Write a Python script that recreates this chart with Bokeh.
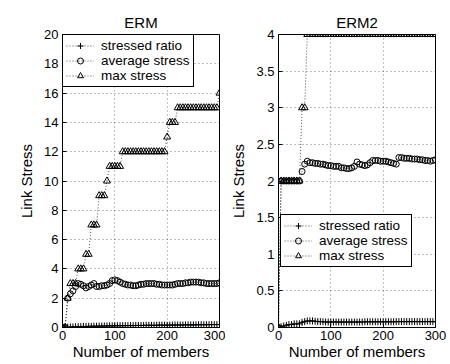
from bokeh.plotting import figure
from bokeh.layouts import row
from bokeh.models import (FixedTicker, NumeralTickFormatter, Legend, LegendItem,
                          Range1d)
from bokeh.embed import file_html
from bokeh.resources import INLINE

FONT = "Liberation Sans"

# ---------------- data ----------------
members = [0, 5, 10, 15, 20, 25, 30, 35, 40, 45, 50, 55, 60, 65, 70, 75, 80, 85, 90, 95,
           100, 105, 110, 115, 120, 125, 130, 135, 140, 145, 150, 155, 160, 165, 170, 175,
           180, 185, 190, 195, 200, 205, 210, 215, 220, 225, 230, 235, 240, 245, 250, 255,
           260, 265, 270, 275, 280, 285, 290, 295, 300]

erm_ratio = [0, 0, 0.02, 0.03, 0.04, 0.05, 0.05, 0.06, 0.07, 0.07, 0.08, 0.08, 0.09, 0.09,
             0.10, 0.10, 0.10, 0.11, 0.11, 0.11, 0.12, 0.12, 0.12, 0.12, 0.13, 0.13, 0.13,
             0.13, 0.14, 0.14, 0.14, 0.14, 0.15, 0.15, 0.15, 0.15, 0.15, 0.16, 0.16, 0.16,
             0.16, 0.16, 0.17, 0.17, 0.17, 0.17, 0.17, 0.18, 0.18, 0.18, 0.18, 0.18, 0.19,
             0.19, 0.19, 0.19, 0.19, 0.2, 0.2, 0.2, 0.2]
erm_avg = [0, 0, 2.0, 2.3, 2.5, 2.8, 3.0, 2.95, 2.85, 2.7, 2.8, 2.9, 3.0, 2.8, 2.8, 2.85,
           2.85, 2.9, 3.0, 3.2, 3.25, 3.2, 3.1, 3.0, 2.95, 2.9, 2.9, 2.85, 2.85, 2.9, 2.95,
           2.95, 3.0, 3.0, 3.0, 3.0, 2.95, 2.95, 2.9, 2.9, 2.9, 2.9, 2.9, 2.95, 3.0, 3.0,
           3.0, 3.05, 3.05, 3.1, 3.1, 3.1, 3.1, 3.05, 3.05, 3.0, 3.0, 3.0, 3.0, 3.0, 3.05]
erm_max = [0, 0, 2, 3, 3, 3, 4, 4, 4, 5, 5, 7, 7, 7, 9, 9, 9, 10, 11, 11, 11, 11, 11,
           12, 12, 12, 12, 12, 12, 12, 12, 12, 12, 12, 12, 12, 12, 12, 12, 12,
           13, 14, 14, 14,
           15, 15, 15, 15, 15, 15, 15, 15, 15, 15, 15, 15, 15, 15, 15, 15, 16]

erm2_ratio = [0, 0.01, 0.02, 0.03, 0.04, 0.04, 0.05, 0.05, 0.05, 0.07, 0.08, 0.09, 0.09,
              0.09, 0.085, 0.08, 0.08, 0.078, 0.075, 0.075, 0.075, 0.075, 0.075, 0.075,
              0.075, 0.075, 0.075, 0.075, 0.075, 0.075, 0.075, 0.075, 0.075, 0.078, 0.078,
              0.078, 0.078, 0.078, 0.078, 0.078, 0.078, 0.078, 0.078, 0.078, 0.078, 0.08,
              0.08, 0.08, 0.08, 0.08, 0.08, 0.08, 0.08, 0.08, 0.08, 0.08, 0.08, 0.08, 0.08,
              0.08, 0.08]
erm2_avg = [0, 2.0, 2.0, 2.0, 2.0, 2.0, 2.0, 2.0, 2.0, 2.13, 2.23,
            2.27, 2.25, 2.25, 2.24, 2.24, 2.23, 2.23, 2.22, 2.21, 2.21,
            2.20, 2.20, 2.20, 2.18, 2.18, 2.17, 2.17, 2.18, 2.20, 2.26,
            2.23, 2.22, 2.21, 2.22, 2.25, 2.28, 2.28, 2.28, 2.27, 2.27,
            2.27, 2.26, 2.25, 2.24, 2.23, 2.32, 2.32, 2.31, 2.31, 2.31,
            2.30, 2.30, 2.30, 2.29, 2.29, 2.28, 2.28, 2.27, 2.28, 2.29]
erm2_max = [0, 2, 2, 2, 2, 2, 2, 2, 2, 3, 3,
            4, 4, 4, 4, 4, 4, 4, 4, 4, 4, 4, 4, 4, 4, 4, 4, 4, 4, 4, 4,
            4, 4, 4, 4, 4, 4, 4, 4, 4, 4, 4, 4, 4, 4, 4, 4, 4, 4, 4, 4,
            4, 4, 4, 4, 4, 4, 4, 4, 4, 4]

x_ticks = [0, 100, 200, 300]
erm_yticks = [0, 2, 4, 6, 8, 10, 12, 14, 16, 18, 20]
erm2_yticks = [0, 0.5, 1, 1.5, 2, 2.5, 3, 3.5, 4]
labels = ["stressed ratio", "average stress", "max stress"]


def make(title, ymax, yticks, series, border_left, border_right, legend_loc):
    p = figure(frame_width=157, frame_height=293,
               x_range=Range1d(0, 300), y_range=Range1d(0, ymax),
               output_backend="svg", toolbar_location=None,
               min_border_left=border_left, min_border_right=border_right,
               min_border_top=34, min_border_bottom=37,
               background_fill_color="white", border_fill_color="white")
    p.title.text = title
    p.title.align = "center"
    p.title.text_font = FONT
    p.title.text_font_size = "15px"
    p.title.text_font_style = "normal"
    p.title.text_color = "black"
    p.title.standoff = 8

    p.outline_line_color = "black"
    p.outline_line_width = 1
    p.outline_line_alpha = 1

    for ax in (p.xaxis[0], p.yaxis[0]):
        ax.major_label_text_font = FONT
        ax.major_label_text_font_size = "13px"
        ax.major_label_text_color = "black"
        ax.axis_label_text_font = FONT
        ax.axis_label_text_font_size = "15px"
        ax.axis_label_text_font_style = "normal"
        ax.axis_label_text_color = "black"
        ax.major_tick_in = 4
        ax.major_tick_out = 0
        ax.minor_tick_line_color = None
        ax.axis_line_color = "black"
        ax.major_tick_line_color = "black"
        ax.major_label_standoff = 4
        ax.axis_label_standoff = 6
    p.xaxis[0].major_label_standoff = 3
    p.xaxis[0].axis_label_standoff = 0
    p.xaxis[0].ticker = FixedTicker(ticks=x_ticks)
    p.yaxis[0].ticker = FixedTicker(ticks=yticks)
    p.yaxis[0].formatter = NumeralTickFormatter(format="0.[0]")
    p.xaxis[0].axis_label = "Number of members"
    p.yaxis[0].axis_label = "Link Stress"

    for ax in (p.xgrid[0], p.ygrid[0]):
        ax.grid_line_color = "black"
        ax.grid_line_alpha = 0.5
        ax.grid_line_dash = "1 3"
        ax.grid_line_width = 1
    p.xgrid[0].ticker = FixedTicker(ticks=x_ticks)
    p.ygrid[0].ticker = FixedTicker(ticks=yticks)

    markers = ["cross", "circle", "triangle"]
    sizes = [7, 6, 7]
    items = []
    for lab, ys, mk, sz in zip(labels, series, markers, sizes):
        lr = p.line(members, ys, line_color="black", line_width=1, line_dash="1 2",
                    line_alpha=0.7)
        sr = p.scatter(members, ys, marker=mk, size=sz, line_color="black",
                       line_width=1, fill_color=None)
        items.append(LegendItem(label=lab, renderers=[lr, sr]))

    leg = Legend(items=items, location=legend_loc,
                 label_text_font=FONT, label_text_font_size="13.5px",
                 label_text_color="black",
                 border_line_color="black", border_line_width=1, border_line_alpha=1,
                 background_fill_color="white", background_fill_alpha=1,
                 padding=3, spacing=0, margin=0,
                 glyph_width=28, glyph_height=15, label_height=15,
                 label_standoff=7)
    p.add_layout(leg, "center")
    return p


p1 = make("ERM", 20, erm_yticks, [erm_ratio, erm_avg, erm_max], 62, 6, "top_left")
p2 = make("ERM2", 4, erm2_yticks, [erm2_ratio, erm2_avg, erm2_max], 53, 15, (2, 60))

layout = row(p1, p2)
open("out.html", "w").write(file_html(layout, INLINE))
